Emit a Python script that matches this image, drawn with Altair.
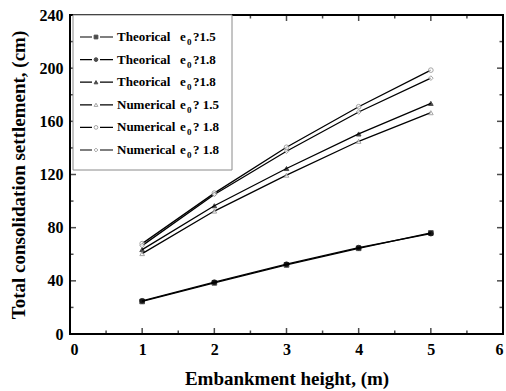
import altair as alt
import pandas as pd

# Embankment heights (m)
heights = [1, 2, 3, 4, 5]

# Total consolidation settlement (cm) for each case
theo_15 = [24.5, 38.5, 52.0, 64.5, 76.0]
theo_18a = [25.0, 39.0, 52.5, 65.0, 75.5]
theo_18b = [63.5, 96.5, 124.5, 150.5, 173.5]
num_15 = [60.5, 92.5, 119.5, 145.0, 166.5]
num_18a = [68.0, 106.0, 140.5, 171.0, 198.5]
num_18b = [66.5, 105.0, 137.5, 167.0, 192.5]

series_keys = ["T15", "T18a", "T18b", "N15", "N18a", "N18b"]
series_vals = [theo_15, theo_18a, theo_18b, num_15, num_18a, num_18b]
legend_words = ["Theorical", "Theorical", "Theorical", "Numerical", "Numerical", "Numerical"]
legend_tails = ["?1.5", "?1.8", "?1.8", "? 1.5", "? 1.8", "? 1.8"]

shapes = ["square", "circle", "triangle-up", "triangle-up", "circle", "diamond"]
fills = ["black", "black", "black", "white", "white", "white"]
strokes = ["black", "black", "black", "#808080", "#808080", "#808080"]

W, H = 433, 319
FONT = "Liberation Serif"

rows = []
for key, vals in zip(series_keys, series_vals):
    for h, v in zip(heights, vals):
        rows.append({"series": key, "height": h, "settlement": v})
df = pd.DataFrame(rows)

leg = pd.DataFrame({
    "series": series_keys,
    "row": list(range(len(series_keys))),
    "word": legend_words,
    "tail": legend_tails,
})

shape_scale = alt.Scale(domain=series_keys, range=shapes)
fill_scale = alt.Scale(domain=series_keys, range=fills)
stroke_scale = alt.Scale(domain=series_keys, range=strokes)

x_enc = alt.X(
    "height:Q",
    scale=alt.Scale(domain=[0, 6], nice=False),
    axis=alt.Axis(
        values=[0, 1, 2, 3, 4, 5, 6], format="d", ticks=False, domain=False, grid=False,
        labelFont=FONT, labelFontWeight="bold", labelFontSize=16, labelColor="black",
        labelPadding=7, title="Embankment height, (m)", titleFont=FONT,
        titleFontWeight="bold", titleFontSize=19, titleColor="black", titlePadding=12,
    ),
)
y_enc = alt.Y(
    "settlement:Q",
    scale=alt.Scale(domain=[0, 240], nice=False),
    axis=alt.Axis(
        values=[0, 40, 80, 120, 160, 200, 240], ticks=False, domain=False, grid=False,
        labelFont=FONT, labelFontWeight="bold", labelFontSize=16, labelColor="black",
        labelPadding=7, title="Total consolidation settlement, (cm)", titleFont=FONT,
        titleFontWeight="bold", titleFontSize=19, titleColor="black", titlePadding=11,
    ),
)

base = alt.Chart(df)

lines = base.mark_line(strokeWidth=1.3, color="black").encode(
    x=x_enc, y=y_enc, detail="series:N"
)
points = base.mark_point(filled=True, size=22, strokeWidth=1).encode(
    x="height:Q",
    y="settlement:Q",
    shape=alt.Shape("series:N", scale=shape_scale, legend=None),
    fill=alt.Fill("series:N", scale=fill_scale, legend=None),
    stroke=alt.Stroke("series:N", scale=stroke_scale, legend=None),
)

# Inward-pointing major and minor ticks on all four sides
x_major = pd.DataFrame({"t": [0, 1, 2, 3, 4, 5, 6]})
x_minor = pd.DataFrame({"t": [0.5, 1.5, 2.5, 3.5, 4.5, 5.5]})
y_major = pd.DataFrame({"t": [0, 40, 80, 120, 160, 200, 240]})
y_minor = pd.DataFrame({"t": [20, 60, 100, 140, 180, 220]})

def xticks(d, L):
    bottom = alt.Chart(d).mark_tick(orient="vertical", size=L, thickness=1.5, color="black").encode(
        x="t:Q", y=alt.value(H - L / 2))
    top = alt.Chart(d).mark_tick(orient="vertical", size=L, thickness=1.5, color="black").encode(
        x="t:Q", y=alt.value(L / 2))
    return bottom + top

def yticks(d, L):
    left = alt.Chart(d).mark_tick(orient="horizontal", size=L, thickness=1.5, color="black").encode(
        y="t:Q", x=alt.value(L / 2))
    right = alt.Chart(d).mark_tick(orient="horizontal", size=L, thickness=1.5, color="black").encode(
        y="t:Q", x=alt.value(W - L / 2))
    return left + right

ticks = xticks(x_major, 6) + xticks(x_minor, 3.5) + yticks(y_major, 6) + yticks(y_minor, 3.5)

# Legend box
legbox = alt.Chart(pd.DataFrame({"a": [0]})).mark_rect(
    fill="white", stroke="#8a8a8a", strokeWidth=1
).encode(x=alt.value(3), x2=alt.value(162), y=alt.value(0), y2=alt.value(155))

legbase = alt.Chart(leg).transform_calculate(py="22 + 22.6 * datum.row")
py = alt.Y("py:Q", scale=None, axis=None)
leg_line = legbase.mark_rule(color="black", strokeWidth=1.2).encode(
    x=alt.value(10), x2=alt.value(43), y=py)
leg_gap = legbase.mark_rule(color="white", strokeWidth=3).encode(
    x=alt.value(22), x2=alt.value(30), y=py)
leg_pts = legbase.mark_point(filled=True, size=14, strokeWidth=1).encode(
    x=alt.value(26), y=py,
    shape=alt.Shape("series:N", scale=shape_scale, legend=None),
    fill=alt.Fill("series:N", scale=fill_scale, legend=None),
    stroke=alt.Stroke("series:N", scale=stroke_scale, legend=None),
)
txt = dict(font=FONT, fontWeight="bold", color="black", baseline="middle", align="left")
leg_word = legbase.mark_text(fontSize=13, **txt).encode(x=alt.value(47), y=py, text="word:N")
leg_e = legbase.mark_text(fontSize=13, **txt).encode(x=alt.value(110), y=py, text=alt.value("e"))
leg_sub = legbase.mark_text(fontSize=9, dy=5, **txt).encode(x=alt.value(117), y=py, text=alt.value("0"))
leg_tail = legbase.mark_text(fontSize=13, **txt).encode(x=alt.value(123), y=py, text="tail:N")

legend = legbox + leg_line + leg_gap + leg_pts + leg_word + leg_e + leg_sub + leg_tail

chart = alt.layer(lines, points, ticks, legend).properties(
    width=W, height=H,
    autosize=alt.AutoSizeParams(type="none"),
    padding={"left": 70, "top": 15, "right": 3, "bottom": 57},
    background="white",
).configure_view(stroke="black", strokeWidth=2)

chart.save("out.html", embed_options={"renderer": "svg", "actions": False})
